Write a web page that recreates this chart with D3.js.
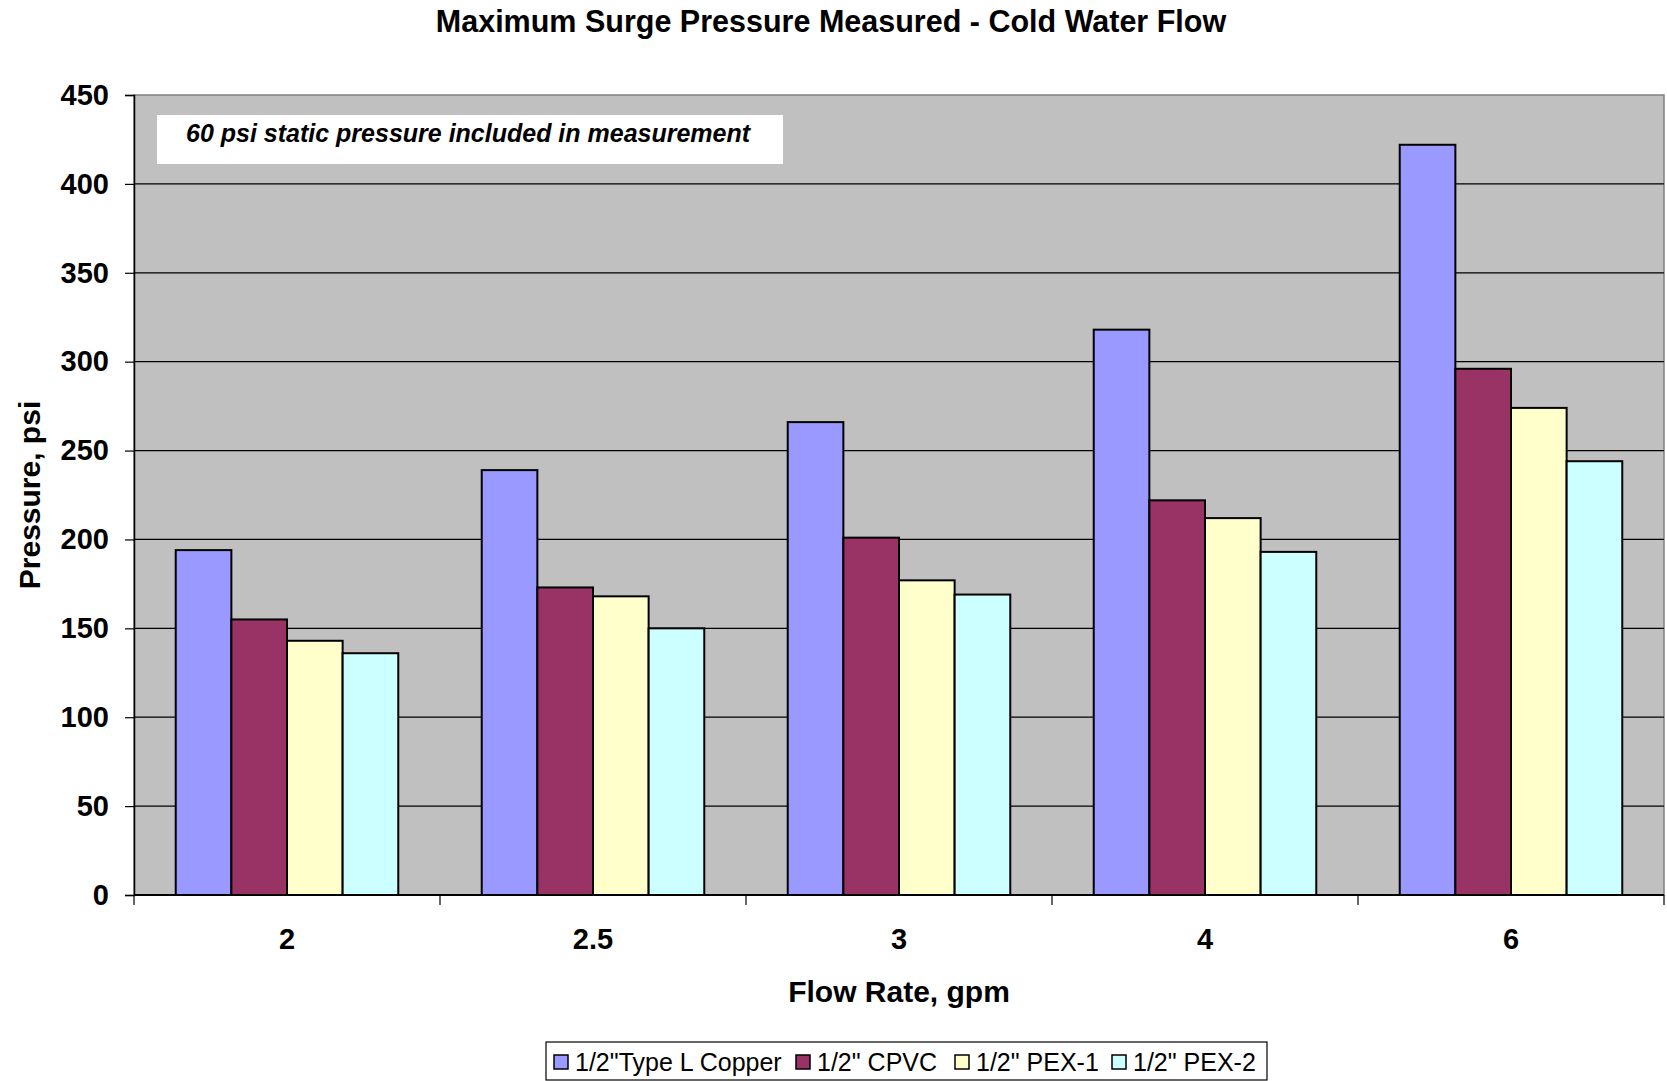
<!DOCTYPE html>
<html>
<head>
<meta charset="utf-8">
<script src="https://cdn.jsdelivr.net/npm/d3@7"></script>
<style>
  html, body { margin: 0; padding: 0; background: #fff; }
  svg { display: block; font-family: "Liberation Sans", Arial, sans-serif; }
</style>
</head>
<body>
<svg id="chart" width="1667" height="1081"></svg>
<script>
// Flow rates (gpm) on the category axis
const flowRates = ["2", "2.5", "3", "4", "6"];
// Pipe types, one series each
const seriesNames = ["1/2\"Type L Copper", "1/2\" CPVC", "1/2\" PEX-1", "1/2\" PEX-2"];
// Maximum surge pressure (psi) per flow rate
const copper = [194, 239, 266, 318, 422];
const cpvc   = [155, 173, 201, 222, 296];
const pex1   = [143, 168, 177, 212, 274];
const pex2   = [136, 150, 169, 193, 244];
const yTicks = [0, 50, 100, 150, 200, 250, 300, 350, 400, 450];

const seriesValues = [copper, cpvc, pex1, pex2];
const seriesColors = ["#9999FF", "#993366", "#FFFFCC", "#CCFFFF"];

const W = 1667, H = 1081;
const margin = { top: 95, right: 3, bottom: 186, left: 134 };
const plotW = W - margin.left - margin.right;
const plotH = H - margin.top - margin.bottom;

const svg = d3.select("#chart");

const x = d3.scaleBand().domain(flowRates).range([0, plotW]).padding(0);
// gap width of 150% between category clusters
const xs = d3.scaleBand().domain(d3.range(seriesNames.length))
  .range([0, x.bandwidth()]).paddingInner(0).paddingOuter(0.75);
const y = d3.scaleLinear().domain([0, 450]).range([plotH, 0]);

const g = svg.append("g").attr("transform", `translate(${margin.left},${margin.top})`);

// plot background
g.append("rect").attr("width", plotW).attr("height", plotH)
  .attr("fill", "#C0C0C0").attr("stroke", "#808080").attr("stroke-width", 1.5);

// horizontal gridlines
g.selectAll("line.grid").data(yTicks.filter(t => t > 0 && t < 450)).join("line")
  .attr("class", "grid")
  .attr("x1", 0).attr("x2", plotW)
  .attr("y1", d => y(d)).attr("y2", d => y(d))
  .attr("stroke", "#000").attr("stroke-width", 1.2);

// note box
const note = g.append("g").attr("transform", "translate(23,20)");
note.append("rect").attr("width", 626).attr("height", 49).attr("fill", "#fff");
note.append("text").attr("x", 29).attr("y", 27)
  .attr("font-size", 25).attr("font-weight", "bold").attr("font-style", "italic")
  .text("60 psi static pressure included in measurement");

// bars
const rows = flowRates.map((f, i) => ({ f, vals: seriesValues.map(s => s[i]) }));
const groups = g.selectAll("g.cat").data(rows).join("g")
  .attr("class", "cat")
  .attr("transform", d => `translate(${x(d.f)},0)`);
groups.selectAll("rect").data(d => d.vals.map((v, k) => ({ v, k }))).join("rect")
  .attr("x", d => xs(d.k))
  .attr("width", xs.bandwidth())
  .attr("y", d => y(d.v))
  .attr("height", d => plotH - y(d.v))
  .attr("fill", d => seriesColors[d.k])
  .attr("stroke", "#000").attr("stroke-width", 2);

// y axis
const yAxis = d3.axisLeft(y).tickValues(yTicks).tickSize(9).tickPadding(16).tickFormat(d3.format("d"));
const ya = g.append("g").call(yAxis);
ya.select(".domain").attr("stroke", "#000").attr("stroke-width", 1.5);
ya.selectAll(".tick line").attr("stroke", "#000").attr("stroke-width", 1.2);
ya.selectAll(".tick text").attr("font-size", 29).attr("font-weight", "bold")
  .attr("fill", "#000").attr("font-family", "Liberation Sans, Arial, sans-serif");

// x axis: ticks at category boundaries
const xa = g.append("g").attr("transform", `translate(0,${plotH})`);
xa.append("line").attr("x1", 0).attr("x2", plotW).attr("stroke", "#000").attr("stroke-width", 2);
const bounds = flowRates.map(f => x(f)).concat([plotW]);
xa.selectAll("line.tk").data(bounds).join("line").attr("class", "tk")
  .attr("x1", d => d).attr("x2", d => d).attr("y1", 0).attr("y2", 10)
  .attr("stroke", "#000").attr("stroke-width", 1.2);
xa.selectAll("text").data(flowRates).join("text")
  .attr("x", d => x(d) + x.bandwidth() / 2).attr("y", 54)
  .attr("text-anchor", "middle").attr("font-size", 29).attr("font-weight", "bold")
  .text(d => d);

// titles
svg.append("text").attr("x", 831).attr("y", 32).attr("text-anchor", "middle")
  .attr("font-size", 30.5).attr("font-weight", "bold")
  .text("Maximum Surge Pressure Measured - Cold Water Flow");
svg.append("text").attr("x", margin.left + plotW / 2).attr("y", 1002).attr("text-anchor", "middle")
  .attr("font-size", 30).attr("font-weight", "bold").text("Flow Rate, gpm");
svg.append("text").attr("transform", `translate(40,${margin.top + plotH / 2}) rotate(-90)`)
  .attr("text-anchor", "middle").attr("font-size", 30).attr("font-weight", "bold")
  .text("Pressure, psi");

// legend
const legend = svg.append("g").attr("transform", "translate(546,1042)");
legend.append("rect").attr("width", 721).attr("height", 38)
  .attr("fill", "#fff").attr("stroke", "#000").attr("stroke-width", 1.2);
const itemX = [8, 250, 409, 566];
const li = legend.selectAll("g.item").data(seriesNames).join("g").attr("class", "item")
  .attr("transform", (d, i) => `translate(${itemX[i]},0)`);
li.append("rect").attr("y", 13).attr("width", 14).attr("height", 14)
  .attr("fill", (d, i) => seriesColors[i]).attr("stroke", "#000").attr("stroke-width", 1.5);
li.append("text").attr("x", 21).attr("y", 29).attr("font-size", 25).text(d => d);
</script>
</body>
</html>
